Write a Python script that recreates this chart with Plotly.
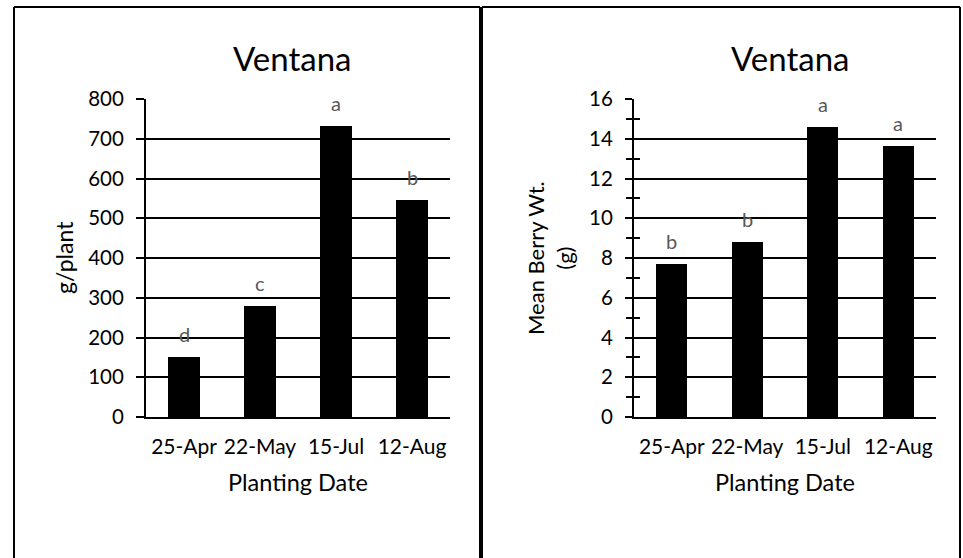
import plotly.graph_objects as go

# Planting dates (categories)
dates = ["25-Apr", "22-May", "15-Jul", "12-Aug"]

# Yield per plant (g/plant) and significance letters
yield_g = [150, 280, 732, 547]
yield_letters = ["d", "c", "a", "b"]

# Mean berry weight (g) and significance letters
berry_wt = [7.70, 8.79, 14.59, 13.64]
berry_letters = ["b", "b", "a", "a"]

W, H = 963, 558
FONT = "Lato"


def px(x):
    return x / W


def py(y):
    return 1 - y / H


fig = go.Figure()

fig.add_trace(go.Bar(x=dates, y=yield_g, marker=dict(color="black", line=dict(width=0)),
                     width=0.41, xaxis="x", yaxis="y", hoverinfo="x+y"))
fig.add_trace(go.Bar(x=dates, y=berry_wt, marker=dict(color="black", line=dict(width=0)),
                     width=0.41, xaxis="x2", yaxis="y2", hoverinfo="x+y"))
# invisible trace so the overlaid minor-tick axis is rendered
fig.add_trace(go.Scatter(x=[dates[0]], y=[0], xaxis="x2", yaxis="y3", mode="markers",
                         marker=dict(opacity=0), hoverinfo="skip"))

annotations = []
for d, v, t in zip(dates, yield_g, yield_letters):
    annotations.append(dict(x=d, y=v, xref="x", yref="y", text=t, showarrow=False,
                            yanchor="middle", yshift=23,
                            font=dict(family=FONT, size=20, color="#595959")))
for d, v, t in zip(dates, berry_wt, berry_letters):
    annotations.append(dict(x=d, y=v, xref="x2", yref="y2", text=t, showarrow=False,
                            yanchor="middle", yshift=23,
                            font=dict(family=FONT, size=20, color="#595959")))

# Panel titles
for cx in (292, 790):
    annotations.append(dict(x=px(cx), y=py(58), xref="paper", yref="paper", text="Ventana",
                            showarrow=False, xanchor="center", yanchor="middle",
                            font=dict(family=FONT, size=33, color="black")))
# X-axis titles
for cx in (298, 785):
    annotations.append(dict(x=px(cx), y=py(482), xref="paper", yref="paper", text="Planting Date",
                            showarrow=False, xanchor="center", yanchor="middle",
                            font=dict(family=FONT, size=23.5, color="black")))
# Y-axis titles
annotations.append(dict(x=px(64), y=py(258), xref="paper", yref="paper", text="g/plant",
                        showarrow=False, textangle=-90, xanchor="center", yanchor="middle",
                        font=dict(family=FONT, size=23, color="black")))
annotations.append(dict(x=px(550), y=py(258), xref="paper", yref="paper",
                        text="Mean Berry Wt.<br>(g)", showarrow=False, textangle=-90,
                        xanchor="center", yanchor="middle",
                        font=dict(family=FONT, size=22, color="black")))

tick_font = dict(family=FONT, size=20.5, color="black")
x_tick_font = dict(family=FONT, size=21, color="black")

ydom = [py(417), py(99)]

# Panel frames: left, top and right edges of each panel
frame = dict(color="black", width=2)
shapes = []
for x0, x1 in ((14, 480), (482, 960)):
    shapes.append(dict(type="line", xref="paper", yref="paper", x0=px(x0), x1=px(x0),
                       y0=0, y1=py(7), line=frame))
    shapes.append(dict(type="line", xref="paper", yref="paper", x0=px(x1), x1=px(x1),
                       y0=0, y1=py(7), line=frame))
    shapes.append(dict(type="line", xref="paper", yref="paper", x0=px(x0), x1=px(x1),
                       y0=py(7), y1=py(7), line=frame))

fig.update_layout(
    width=W, height=H,
    autosize=False,
    margin=dict(l=0, r=0, t=0, b=0, pad=0),
    paper_bgcolor="white", plot_bgcolor="white",
    showlegend=False,
    bargap=0,
    xaxis=dict(domain=[px(146), px(450)], anchor="y", showline=True, linecolor="black",
               linewidth=2, ticks="", tickfont=x_tick_font, showgrid=False,
               automargin=False, ticklabelstandoff=10),
    yaxis=dict(domain=ydom, anchor="x", range=[0, 800], dtick=100, showline=True,
               linecolor="black", linewidth=2, ticks="outside", ticklen=8, tickwidth=2,
               tickcolor="black", showgrid=True, gridcolor="black", gridwidth=2,
               zeroline=False, tickfont=tick_font, ticklabelstandoff=8, automargin=False),
    xaxis2=dict(domain=[px(634), px(936)], anchor="y2", showline=True, linecolor="black",
                linewidth=2, ticks="", tickfont=x_tick_font, showgrid=False,
                automargin=False, ticklabelstandoff=10),
    yaxis2=dict(domain=ydom, anchor="x2", range=[0, 16], dtick=2, showline=True,
                linecolor="black", linewidth=2, ticks="outside", ticklen=7, tickwidth=2,
                tickcolor="black", showgrid=True, gridcolor="black", gridwidth=2,
                zeroline=False, tickfont=tick_font, ticklabelstandoff=8, automargin=False,
                minor=dict(dtick=1, ticks="outside", ticklen=6, tickwidth=2,
                           tickcolor="black", showgrid=False)),
    yaxis3=dict(overlaying="y2", anchor="x2", side="left", range=[0, 16], tick0=1, dtick=2,
                ticks="inside", ticklen=6, tickwidth=2, tickcolor="black",
                showticklabels=False, showgrid=False, showline=False, zeroline=False,
                automargin=False),
    annotations=annotations,
    shapes=shapes,
)

fig.write_html("out.html")
